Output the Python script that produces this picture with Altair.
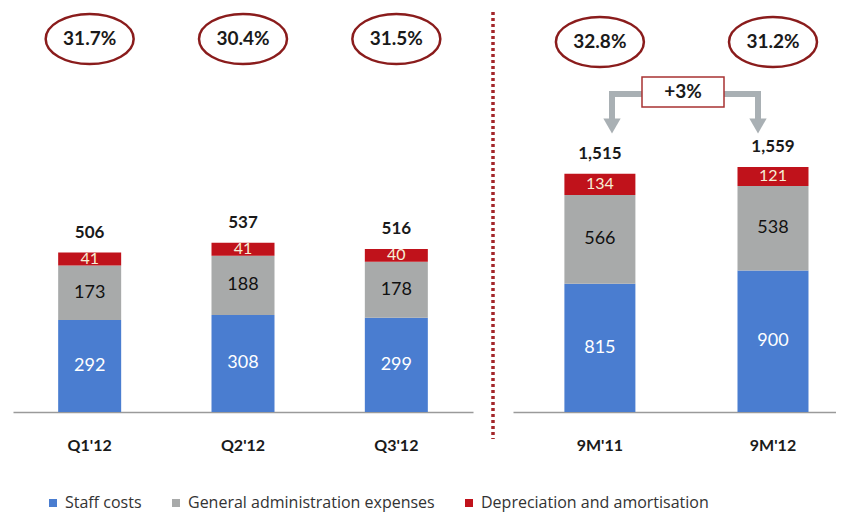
import altair as alt
import pandas as pd

series_names = ["Staff costs", "General administration expenses", "Depreciation and amortisation"]
series_colors = ["#4a7dd0", "#a8aaaa", "#c0121b"]
label_colors = ["#ffffff", "#111111", "#f6efd6"]
label_sizes = [18, 18, 16]

periods_q = ["Q1'12", "Q2'12", "Q3'12"]
staff_q = [292, 308, 299]
admin_q = [173, 188, 178]
dep_q = [41, 41, 40]
total_q = [506, 537, 516]
ratio_q = ["31.7%", "30.4%", "31.5%"]

periods_9m = ["9M'11", "9M'12"]
staff_9m = [815, 900]
admin_9m = [566, 538]
dep_9m = [134, 121]
total_9m = [1515, 1559]
ratio_9m = ["32.8%", "31.2%"]

growth_label = ["+3%"]

ELLIPSE = "M-1,0 A1,0.57 0 1,1 1,0 A1,0.57 0 1,1 -1,0 Z"
DARK = "#1a1a1a"
OVAL = "#8a1c1c"
ARROW = "#a9b0b4"


def long_df(periods, staff, admin, dep):
    rows = []
    for i, p in enumerate(periods):
        for k, vals in enumerate([staff, admin, dep]):
            rows.append({"period": p, "series": series_names[k], "order": k, "value": vals[i]})
    return pd.DataFrame(rows)


def panel(periods, staff, admin, dep, totals, ratios, width, ymax, bar_size, xscale, ratio_y):
    seg = long_df(periods, staff, admin, dep)
    top = pd.DataFrame({"period": periods, "total": totals, "ratio": ratios})
    x = alt.X("period:N", sort=periods, scale=xscale,
              axis=alt.Axis(title=None, labelAngle=0, ticks=False, tickSize=0, labelPadding=25,
                            labelFontSize=16, labelFontWeight="bold", labelColor=DARK,
                            domainColor="#9a9a9a", domainWidth=1.5))
    yscale = alt.Scale(domain=[0, ymax])
    base = alt.Chart(seg).transform_stack(
        stack="value", groupby=["period"], sort=[alt.SortField("order")], as_=["y0", "y1"]
    ).transform_calculate(mid="(datum.y0 + datum.y1) / 2")
    bars = base.mark_bar(size=bar_size).encode(
        x=x,
        y=alt.Y("y0:Q", scale=yscale, axis=None),
        y2="y1:Q",
        color=alt.Color("series:N", scale=alt.Scale(domain=series_names, range=series_colors),
                        legend=alt.Legend(title=None, orient="none", legendX=32, legendY=485,
                                          direction="horizontal", symbolType="square",
                                          symbolSize=64, symbolStrokeWidth=0, labelFontSize=16,
                                          labelFont="Open Sans", labelLimit=0,
                                          labelColor="#333333", columnPadding=26, labelOffset=4)),
    )
    layers = [bars]
    for k, name in enumerate(series_names):
        layers.append(
            base.transform_filter(alt.datum.series == name)
            .mark_text(color=label_colors[k], fontSize=label_sizes[k], baseline="middle")
            .encode(x=x, y=alt.Y("mid:Q", scale=yscale, axis=None), text="value:Q")
        )
    tchart = alt.Chart(top)
    layers.append(
        tchart.mark_text(fontSize=17, fontWeight="bold", color=DARK, baseline="bottom", dy=-11)
        .encode(x=x, y=alt.Y("total:Q", scale=yscale, axis=None), text=alt.Text("total:Q", format=",d"))
    )
    layers.append(
        tchart.mark_point(shape=ELLIPSE, size=7744, filled=False, color=OVAL, strokeWidth=2.5, opacity=1)
        .encode(x=x, y=alt.value(ratio_y))
    )
    layers.append(
        tchart.mark_text(fontSize=19, fontWeight="bold", color=DARK, baseline="middle")
        .encode(x=x, y=alt.value(ratio_y), text="ratio:N")
    )
    return layers


left_layers = panel(periods_q, staff_q, admin_q, dep_q, total_q, ratio_q, 460, 1276, 63,
                    alt.Scale(paddingInner=0, paddingOuter=0), 29)
right_layers = panel(periods_9m, staff_9m, admin_9m, dep_9m, total_9m, ratio_9m, 323, 2557, 71,
                     alt.Scale(paddingInner=0.272, paddingOuter=0.069, align=1), 32)

ann = alt.Chart(pd.DataFrame({"label": growth_label}))

separator = ann.mark_rule(color="#a3262a", strokeWidth=3.5, strokeDash=[3, 3]).encode(
    x=alt.value(480), y=alt.value(2), y2=alt.value(429)
)

arrow_parts = [
    ann.mark_rule(color=ARROW, strokeWidth=6, strokeCap="square").encode(
        x=alt.value(99), x2=alt.value(129), y=alt.value(84)),
    ann.mark_rule(color=ARROW, strokeWidth=6, strokeCap="square").encode(
        x=alt.value(99), y=alt.value(84), y2=alt.value(108)),
    ann.mark_point(shape="triangle-down", size=300, filled=True, color=ARROW, opacity=1).encode(
        x=alt.value(99), y=alt.value(116)),
    ann.mark_rule(color=ARROW, strokeWidth=6, strokeCap="square").encode(
        x=alt.value(211), x2=alt.value(245), y=alt.value(84)),
    ann.mark_rule(color=ARROW, strokeWidth=6, strokeCap="square").encode(
        x=alt.value(245), y=alt.value(84), y2=alt.value(108)),
    ann.mark_point(shape="triangle-down", size=300, filled=True, color=ARROW, opacity=1).encode(
        x=alt.value(245), y=alt.value(116)),
    ann.mark_rect(fill="white", stroke="#a83232", strokeWidth=1.5).encode(
        x=alt.value(129), x2=alt.value(211), y=alt.value(67), y2=alt.value(97)),
    ann.mark_text(fontSize=19, fontWeight="bold", color=DARK, baseline="middle").encode(
        x=alt.value(170), y=alt.value(82), text="label:N"),
]

left = alt.layer(*left_layers, separator).properties(width=460, height=402)
right = alt.layer(*right_layers, *arrow_parts).properties(width=323, height=402)

chart = (
    alt.hconcat(left, right, spacing=40, bounds="flush")
    .resolve_scale(y="independent", x="independent", color="shared")
    .properties(padding={"left": 5, "top": 0, "right": 0, "bottom": 6})
    .configure(font="Lato")
    .configure_view(stroke=None)
)

chart.save("out.html", embed_options={"renderer": "svg", "actions": False})
